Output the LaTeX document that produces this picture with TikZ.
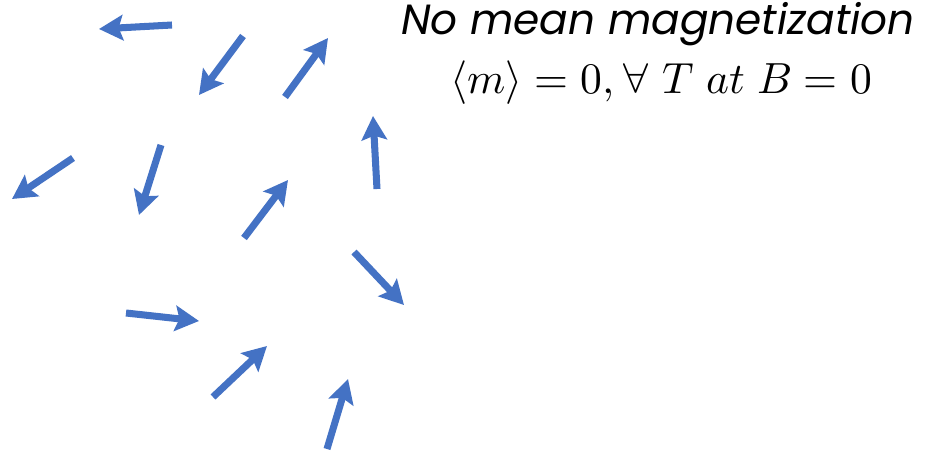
\documentclass[tikz,border=0pt]{standalone}
\usepackage{amsmath,amssymb}
\usepackage{fontspec}
\usepackage{unicode-math}
\setmainfont{Poppins}
\setmathfont{Latin Modern Math}
\usepackage{tikz}
\usetikzlibrary{arrows.meta}
\definecolor{spinBlue}{RGB}{68, 114, 196}

\begin{document}
\begin{tikzpicture}[
    x=0.025cm, y=-0.025cm,
    spin/.style={draw=spinBlue, line width=5pt,
                 -{Stealth[length=17pt, width=18pt, inset=3pt]}},
  ]
    \useasboundingbox (0,0) rectangle (942,453);

    % tail x/y, head x/y
    \foreach \tx/\ty/\hx/\hy in {172/25/99/29, 243/36/199/95, 285/97/328/38,
        377/189/373/116, 73/158/12/199, 161/145/139/215, 244/238/288/180,
        354/252/404/305, 126/313/199/321, 213/397/267/346, 327/449/348/379}
      \draw[spin] (\tx,\ty) -- (\hx,\hy);

    \node[anchor=base, font=\fontsize{30}{36}\selectfont\itshape] (title) at (658,35)
      {No mean magnetization};
    \node[anchor=base, font=\fontsize{31}{37}\selectfont] (formula) at (661,94)
      {$\langle m\rangle = 0, \forall\; T\; at\; B = 0$};
  \end{tikzpicture}
\end{document}
